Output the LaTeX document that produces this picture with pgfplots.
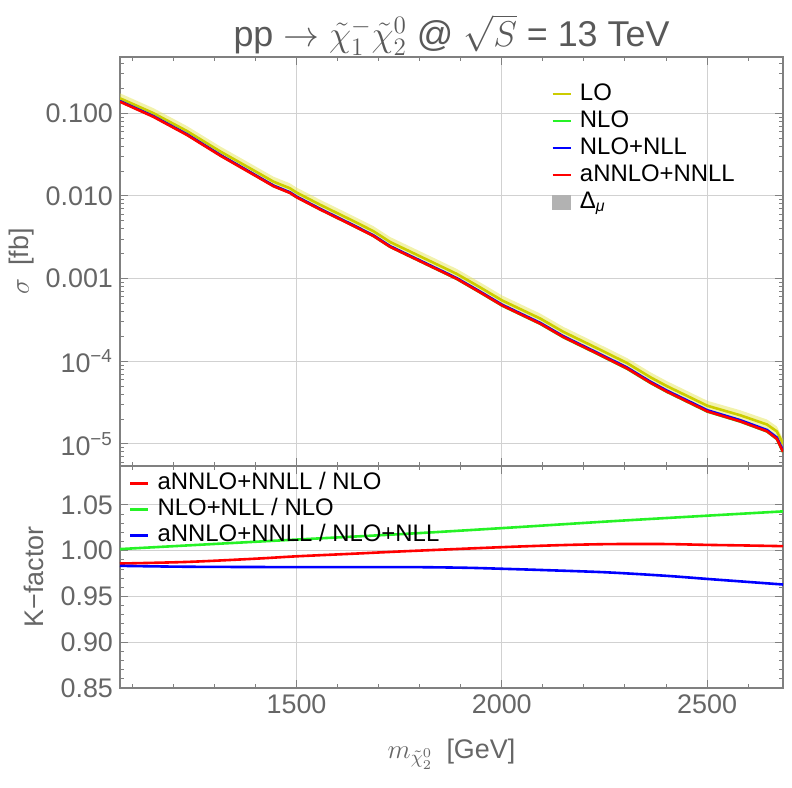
\RequirePackage{fix-cm}
\documentclass[border=0pt]{standalone}
\usepackage{fontspec}
\setmainfont{Liberation Sans}
\usepackage{pgfplots}
\pgfplotsset{compat=1.18}
\usepgfplotslibrary{fillbetween}
\usepackage{pgfplotstable}

\definecolor{locol}{rgb}{0.8,0.8,0}
\definecolor{bandcol}{rgb}{0.9,0.9,0.35}
\definecolor{nlocol}{rgb}{0.15,0.95,0.15}
\definecolor{nllcol}{rgb}{0,0,1}
\definecolor{nnllcol}{rgb}{1,0,0}
\definecolor{ticktext}{gray}{0.4}
\definecolor{titletext}{gray}{0.35}
\definecolor{axisline}{gray}{0.5}
\definecolor{gridc}{gray}{0.82}

\pgfplotstableread{
m lo up dn nlo nll nnll
1070 0.1518 0.1746 0.1336 0.1400 0.1402 0.1380
1151 0.1006 0.1157 0.0885 0.0920 0.0924 0.0908
1233 0.0610 0.0702 0.0537 0.0554 0.0557 0.0547
1314 0.03458 0.03977 0.03043 0.03112 0.03136 0.0308
1395 0.02046 0.02353 0.01800 0.01826 0.01844 0.0181
1444 0.01487 0.01710 0.01309 0.01320 0.01334 0.0131
1484 0.01236 0.01421 0.01088 0.01093 0.01106 0.01086
1500 0.01099 0.01264 0.00967 0.00970 0.00982 0.00964
1557 0.00784 0.00902 0.00690 0.00690 0.00700 0.00687
1639 0.00495 0.00569 0.00436 0.00434 0.00441 0.00433
1687 0.003751 0.004314 0.003301 0.00329 0.00334 0.00328
1728 0.00277 0.003186 0.002438 0.002423 0.002466 0.00242
1785 0.002028 0.002332 0.001785 0.00177 0.001803 0.00177
1866 0.001302 0.001497 0.001146 0.001133 0.001157 0.001135
1891 0.001134 0.001304 0.000998 0.000986 0.001007 0.000988
1947 0.000784 0.000902 0.000690 0.000680 0.000696 0.000682
2001 0.000543 0.000624 0.000478 0.000470 0.000482 0.000472
2094 0.0003277 0.0003769 0.0002884 0.0002826 0.0002903 0.000284
2150 0.0002266 0.0002606 0.0001994 0.0001949 0.0002005 0.000196
2232 0.0001438 0.0001654 0.0001265 0.0001232 0.0001270 0.000124
2305 9.51e-5 1.094e-4 8.37e-5 8.12e-5 8.39e-5 8.18e-5
2362 6.40e-5 7.36e-5 5.63e-5 5.46e-5 5.65e-5 5.5e-5
2402 5.00e-5 5.75e-5 4.40e-5 4.26e-5 4.41e-5 4.29e-5
2501 2.89e-5 3.32e-5 2.54e-5 2.454e-5 2.548e-5 2.47e-5
2581 2.218e-5 2.551e-5 1.952e-5 1.859e-5 1.934e-5 1.87e-5
2646 1.715e-5 1.972e-5 1.509e-5 1.412e-5 1.471e-5 1.42e-5
2670 1.415e-5 1.627e-5 1.245e-5 1.144e-5 1.193e-5 1.15e-5
2685 1.0e-5 1.15e-5 8.8e-6 7.96e-6 8.30e-6 8.0e-6
}\xsec

\pgfplotstableread{
m k
1070 0.986
1235 0.9878
1400 0.9913
1500 0.9939
1650 0.9970
1772 0.9996
2000 1.0039
2150 1.0062
2255 1.0072
2350 1.0074
2416 1.0072
2500 1.0064
2600 1.0057
2685 1.0050
}\kred

\pgfplotstableread{
m k
1070 1.0018
1300 1.0074
1500 1.0122
1772 1.0186
2000 1.0247
2255 1.0319
2500 1.0383
2685 1.0430
}\kgreen

\pgfplotstableread{
m k
1070 0.9835
1235 0.9825
1500 0.9821
1772 0.9821
1911 0.9814
2000 0.9803
2100 0.9789
2255 0.9764
2400 0.9726
2500 0.9692
2600 0.9659
2685 0.9631
}\kblue

\pgfplotsset{
  common/.style={
    scale only axis,
    width=331.5bp,
    xmin=1070, xmax=2685,
    axis line style={axisline, line width=0.6bp},
    every tick/.style={axisline, line width=0.5bp},
    tick align=inside,
    major tick length=4bp,
    minor tick length=2bp,
    xtick={1500,2000,2500},
    minor xtick={1100,1200,1300,1400,1600,1700,1800,1900,2100,2200,2300,2400,2600},
    grid=major,
    major grid style={gridc, line width=0.5bp},
    ticklabel style={font=\fontsize{13.5}{16}\selectfont, text=ticktext},
    /pgf/number format/assume math mode=true,
    label style={font=\fontsize{13.5}{16}\selectfont, text=ticktext},
    legend cell align=left,
    legend image code/.code={\draw[##1, line width=1.3bp] (0bp,0bp) -- (9bp,0bp);},
  },
}

\begin{document}
\begin{tikzpicture}

% upper panel
\begin{axis}[common,
  at={(60bp,161bp)}, anchor=south west,
  height=204.5bp,
  ymode=log,
  ymin=5.4e-6, ymax=0.48,
  ytick={1e-5,1e-4,1e-3,1e-2,1e-1},
  yticklabels={10\textsuperscript{−5},10\textsuperscript{−4},0.001,0.010,0.100},
  minor ytick={6e-6,7e-6,8e-6,9e-6,2e-5,3e-5,4e-5,5e-5,6e-5,7e-5,8e-5,9e-5,2e-4,3e-4,4e-4,5e-4,6e-4,7e-4,8e-4,9e-4,2e-3,3e-3,4e-3,5e-3,6e-3,7e-3,8e-3,9e-3,2e-2,3e-2,4e-2,5e-2,6e-2,7e-2,8e-2,9e-2,2e-1,3e-1,4e-1},
  xticklabels={},
  ylabel={$\sigma$\enspace[fb]},
  ylabel style={at={(axis description cs:-0.148,0.5)}, anchor=center},
  every axis title shift=0pt,
  title={pp $\rightarrow$ $\tilde{\chi}_1^{-}\tilde{\chi}_2^{0}$ @ $\sqrt{S}$ = 13 TeV},
  title style={at={(axis description cs:0.5,1)}, anchor=base, yshift=5bp,
    font=\fontsize{18}{21}\selectfont, text=titletext},
  legend style={draw=none, fill=none, at={(0.641,0.952)}, anchor=north west,
    font=\fontsize{12}{14}\selectfont, row sep=0.5bp,
    nodes={inner ysep=0.5bp, inner xsep=4bp, text height=9bp, text depth=3bp}},
]
\addplot[name path=bup, draw=none, forget plot] table[x=m, y=up] {\xsec};
\addplot[name path=bdn, draw=none, forget plot] table[x=m, y=dn] {\xsec};
\addplot[fill=bandcol, fill opacity=0.5, draw=none, forget plot] fill between[of=bup and bdn];
\addplot[locol, line width=1.3bp, line join=round] table[x=m, y=lo] {\xsec};
\addlegendentry{LO}
\addplot[nlocol, line width=1.3bp, line join=round] table[x=m, y=nlo] {\xsec};
\addlegendentry{NLO}
\addplot[nllcol, line width=1.3bp, line join=round] table[x=m, y=nll] {\xsec};
\addlegendentry{NLO+NLL}
\addplot[nnllcol, line width=1.3bp, line join=round] table[x=m, y=nnll] {\xsec};
\addlegendentry{aNNLO+NNLL}
\addlegendimage{legend image code/.code={\fill[gray!60] (0bp,-3.5bp) rectangle (9bp,3.5bp);}}
\addlegendentry{Δ\textsubscript{\textit{μ}}}
\end{axis}

% lower panel
\begin{axis}[common,
  at={(60bp,50bp)}, anchor=south west,
  height=111bp,
  ymin=0.85, ymax=1.0926,
  ytick={0.85,0.90,0.95,1.00,1.05},
  yticklabels={0.85,0.90,0.95,1.00,1.05},
  minor y tick num=4,
  xticklabels={1500,2000,2500},
  ylabel={K−factor},
  ylabel style={at={(axis description cs:-0.13,0.5)}, anchor=center},
  xlabel={$m_{\tilde{\chi}_2^0}$\enspace[GeV]},
  xlabel style={at={(axis description cs:0.5,0)}, anchor=base, yshift=-35bp},
  legend style={draw=none, fill=none, at={(0.004,1.0)}, anchor=north west,
    font=\fontsize{12}{14}\selectfont, row sep=0bp,
    nodes={inner ysep=0.5bp, inner xsep=4bp, text height=9bp, text depth=3bp}},
]
\addplot[nnllcol, line width=1.3bp, smooth] table[x=m, y=k] {\kred};
\addlegendentry{aNNLO+NNLL / NLO}
\addplot[nlocol, line width=1.3bp, smooth] table[x=m, y=k] {\kgreen};
\addlegendentry{NLO+NLL / NLO}
\addplot[nllcol, line width=1.3bp, smooth] table[x=m, y=k] {\kblue};
\addlegendentry{aNNLO+NNLL / NLO+NLL}
\end{axis}

\pgfresetboundingbox
\path (0,0) rectangle (396bp,394bp);
\end{tikzpicture}
\end{document}
